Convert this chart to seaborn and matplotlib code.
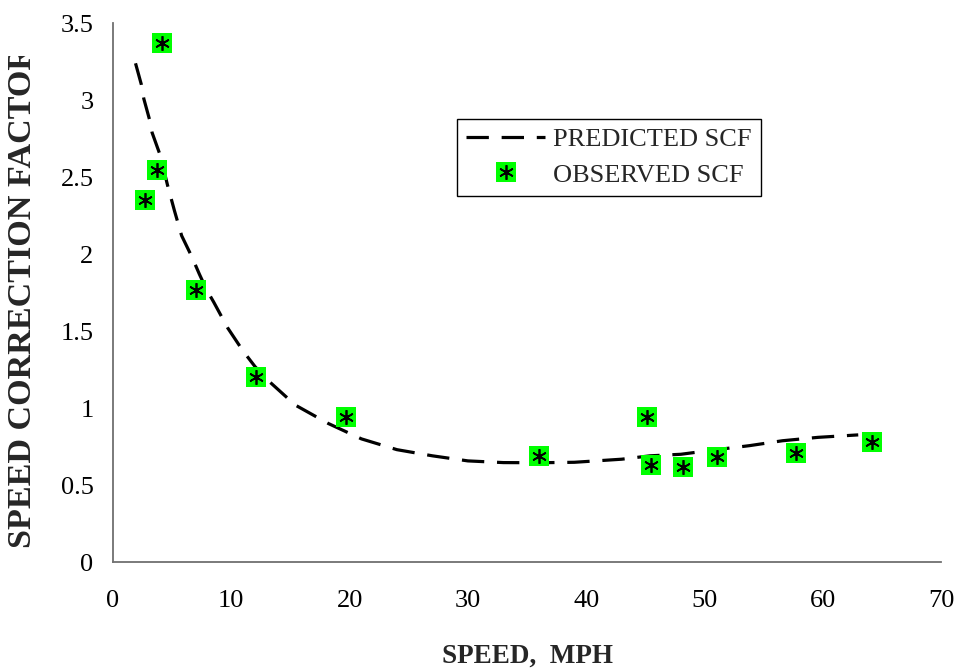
import matplotlib
matplotlib.use("Agg")
import matplotlib.pyplot as plt
import seaborn as sns
import pandas as pd
from matplotlib.lines import Line2D
from matplotlib.transforms import Bbox, TransformedBbox

# ---- data ----
obs_speed = [2.7, 3.7, 4.1, 7.0, 12.1, 19.7, 36.0, 45.1, 45.5, 48.2, 51.1, 57.7, 64.2]
obs_scf = [2.35, 2.55, 3.37, 1.77, 1.20, 0.94, 0.69, 0.94, 0.63, 0.615, 0.68, 0.71, 0.78]

pred_speed = [1.9, 2.4, 2.6, 3.1, 3.3, 4.0, 4.6, 5.2, 5.8, 6.65, 7.3, 7.9, 8.5, 9.7,
              11.0, 12.0, 13.1, 15.4, 18.2, 21.0, 24.0, 27.0, 30.0, 33.0, 36.0, 39.0,
              43.0, 45.4, 48.0, 50.5, 53.8, 56.6, 59.6, 63.0]
pred_scf = [3.24, 3.10, 3.01, 2.87, 2.79, 2.64, 2.45, 2.28, 2.12, 1.985, 1.87, 1.77, 1.69, 1.52,
            1.37, 1.27, 1.18, 1.02, 0.90, 0.80, 0.73, 0.69, 0.657, 0.646, 0.645, 0.648,
            0.668, 0.69, 0.70, 0.725, 0.756, 0.788, 0.81, 0.826]

x_ticks = [0, 10, 20, 30, 40, 50, 60, 70]
y_ticks = [0, 0.5, 1, 1.5, 2, 2.5, 3, 3.5]
y_tick_labels = ["0", "0.5", "1", "1.5", "2", "2.5", "3", "3.5"]

x_label = "SPEED,  MPH"
y_label = "SPEED CORRECTION FACTOR"
pred_label = "PREDICTED SCF"
obs_label = "OBSERVED SCF"

# ---- style ----
sns.set_style("white")
plt.rcParams["font.family"] = ["Liberation Serif", "DejaVu Serif"]

GREEN = "#00ff00"
AXCOL = "#707070"
AST_MS = 10.5
AST_MEW = 1.25

fig = plt.figure(figsize=(9.58, 6.71), dpi=100)
ax = fig.add_axes([0.118, 0.1624, 0.8643, 0.8029])

obs_df = pd.DataFrame({"speed": obs_speed, "scf": obs_scf})
pred_df = pd.DataFrame({"speed": pred_speed, "scf": pred_scf})

sns.lineplot(data=pred_df, x="speed", y="scf", ax=ax, color="black", lw=2.3,
             linestyle=(0, (7, 4)), estimator=None, sort=False)
sns.lineplot(data=obs_df, x="speed", y="scf", ax=ax, color=GREEN, marker="s",
             markersize=14.4, markeredgewidth=0, markerfacecolor=GREEN,
             linestyle="", estimator=None, sort=False)
sns.lineplot(data=obs_df, x="speed", y="scf", ax=ax, color="black", marker=(6, 2, 0),
             markersize=AST_MS, markeredgewidth=AST_MEW, markeredgecolor="black",
             markerfacecolor="black", linestyle="", estimator=None, sort=False)

ax.set_xlim(0, 70)
ax.set_ylim(0, 3.5)
ax.set_xticks(x_ticks)
ax.set_xticklabels([str(v) for v in x_ticks])
ax.set_yticks(y_ticks)
ax.set_yticklabels(y_tick_labels)

for side in ["top", "right"]:
    ax.spines[side].set_visible(False)
for side in ["left", "bottom"]:
    ax.spines[side].set_color(AXCOL)
    ax.spines[side].set_linewidth(1.3)

ax.tick_params(axis="both", direction="inout", length=12, width=1.1, color=AXCOL,
               labelsize=19, labelcolor="black")
ax.tick_params(axis="x", pad=14)
ax.tick_params(axis="y", pad=8)

ax.set_xlabel(x_label, fontsize=19.5, fontweight="bold")
ax.xaxis.set_label_coords(0.5, -0.174)
ax.xaxis.label.set_va("center")
ax.set_ylabel("")

yl = fig.text(0.023, 0.1833, y_label, rotation=90, ha="center", va="bottom",
              fontsize=24.6, fontweight="bold")
yl.set_clip_box(TransformedBbox(Bbox.from_extents(0, 0, 0.1, 0.9172), fig.transFigure))
yl.set_clip_on(True)

pred_handle = Line2D([], [], color="black", lw=2.3, linestyle=(0, (7, 4)))
sq = Line2D([], [], color=GREEN, marker="s", markersize=14.4, markeredgewidth=0, linestyle="")
ast = Line2D([], [], color="black", marker=(6, 2, 0), markersize=AST_MS,
             markeredgewidth=AST_MEW, markeredgecolor="black", linestyle="")
leg = ax.legend([pred_handle, (sq, ast)], [pred_label, obs_label],
                loc="upper left", bbox_to_anchor=(0.4155, 0.823), fontsize=19,
                frameon=True, fancybox=False, edgecolor="black", framealpha=1,
                handlelength=3.0, handletextpad=0.3, borderpad=0.35, labelspacing=0.45,
                borderaxespad=0)
leg.get_frame().set_linewidth(1.0)

fig.savefig("out.png", dpi=100)
